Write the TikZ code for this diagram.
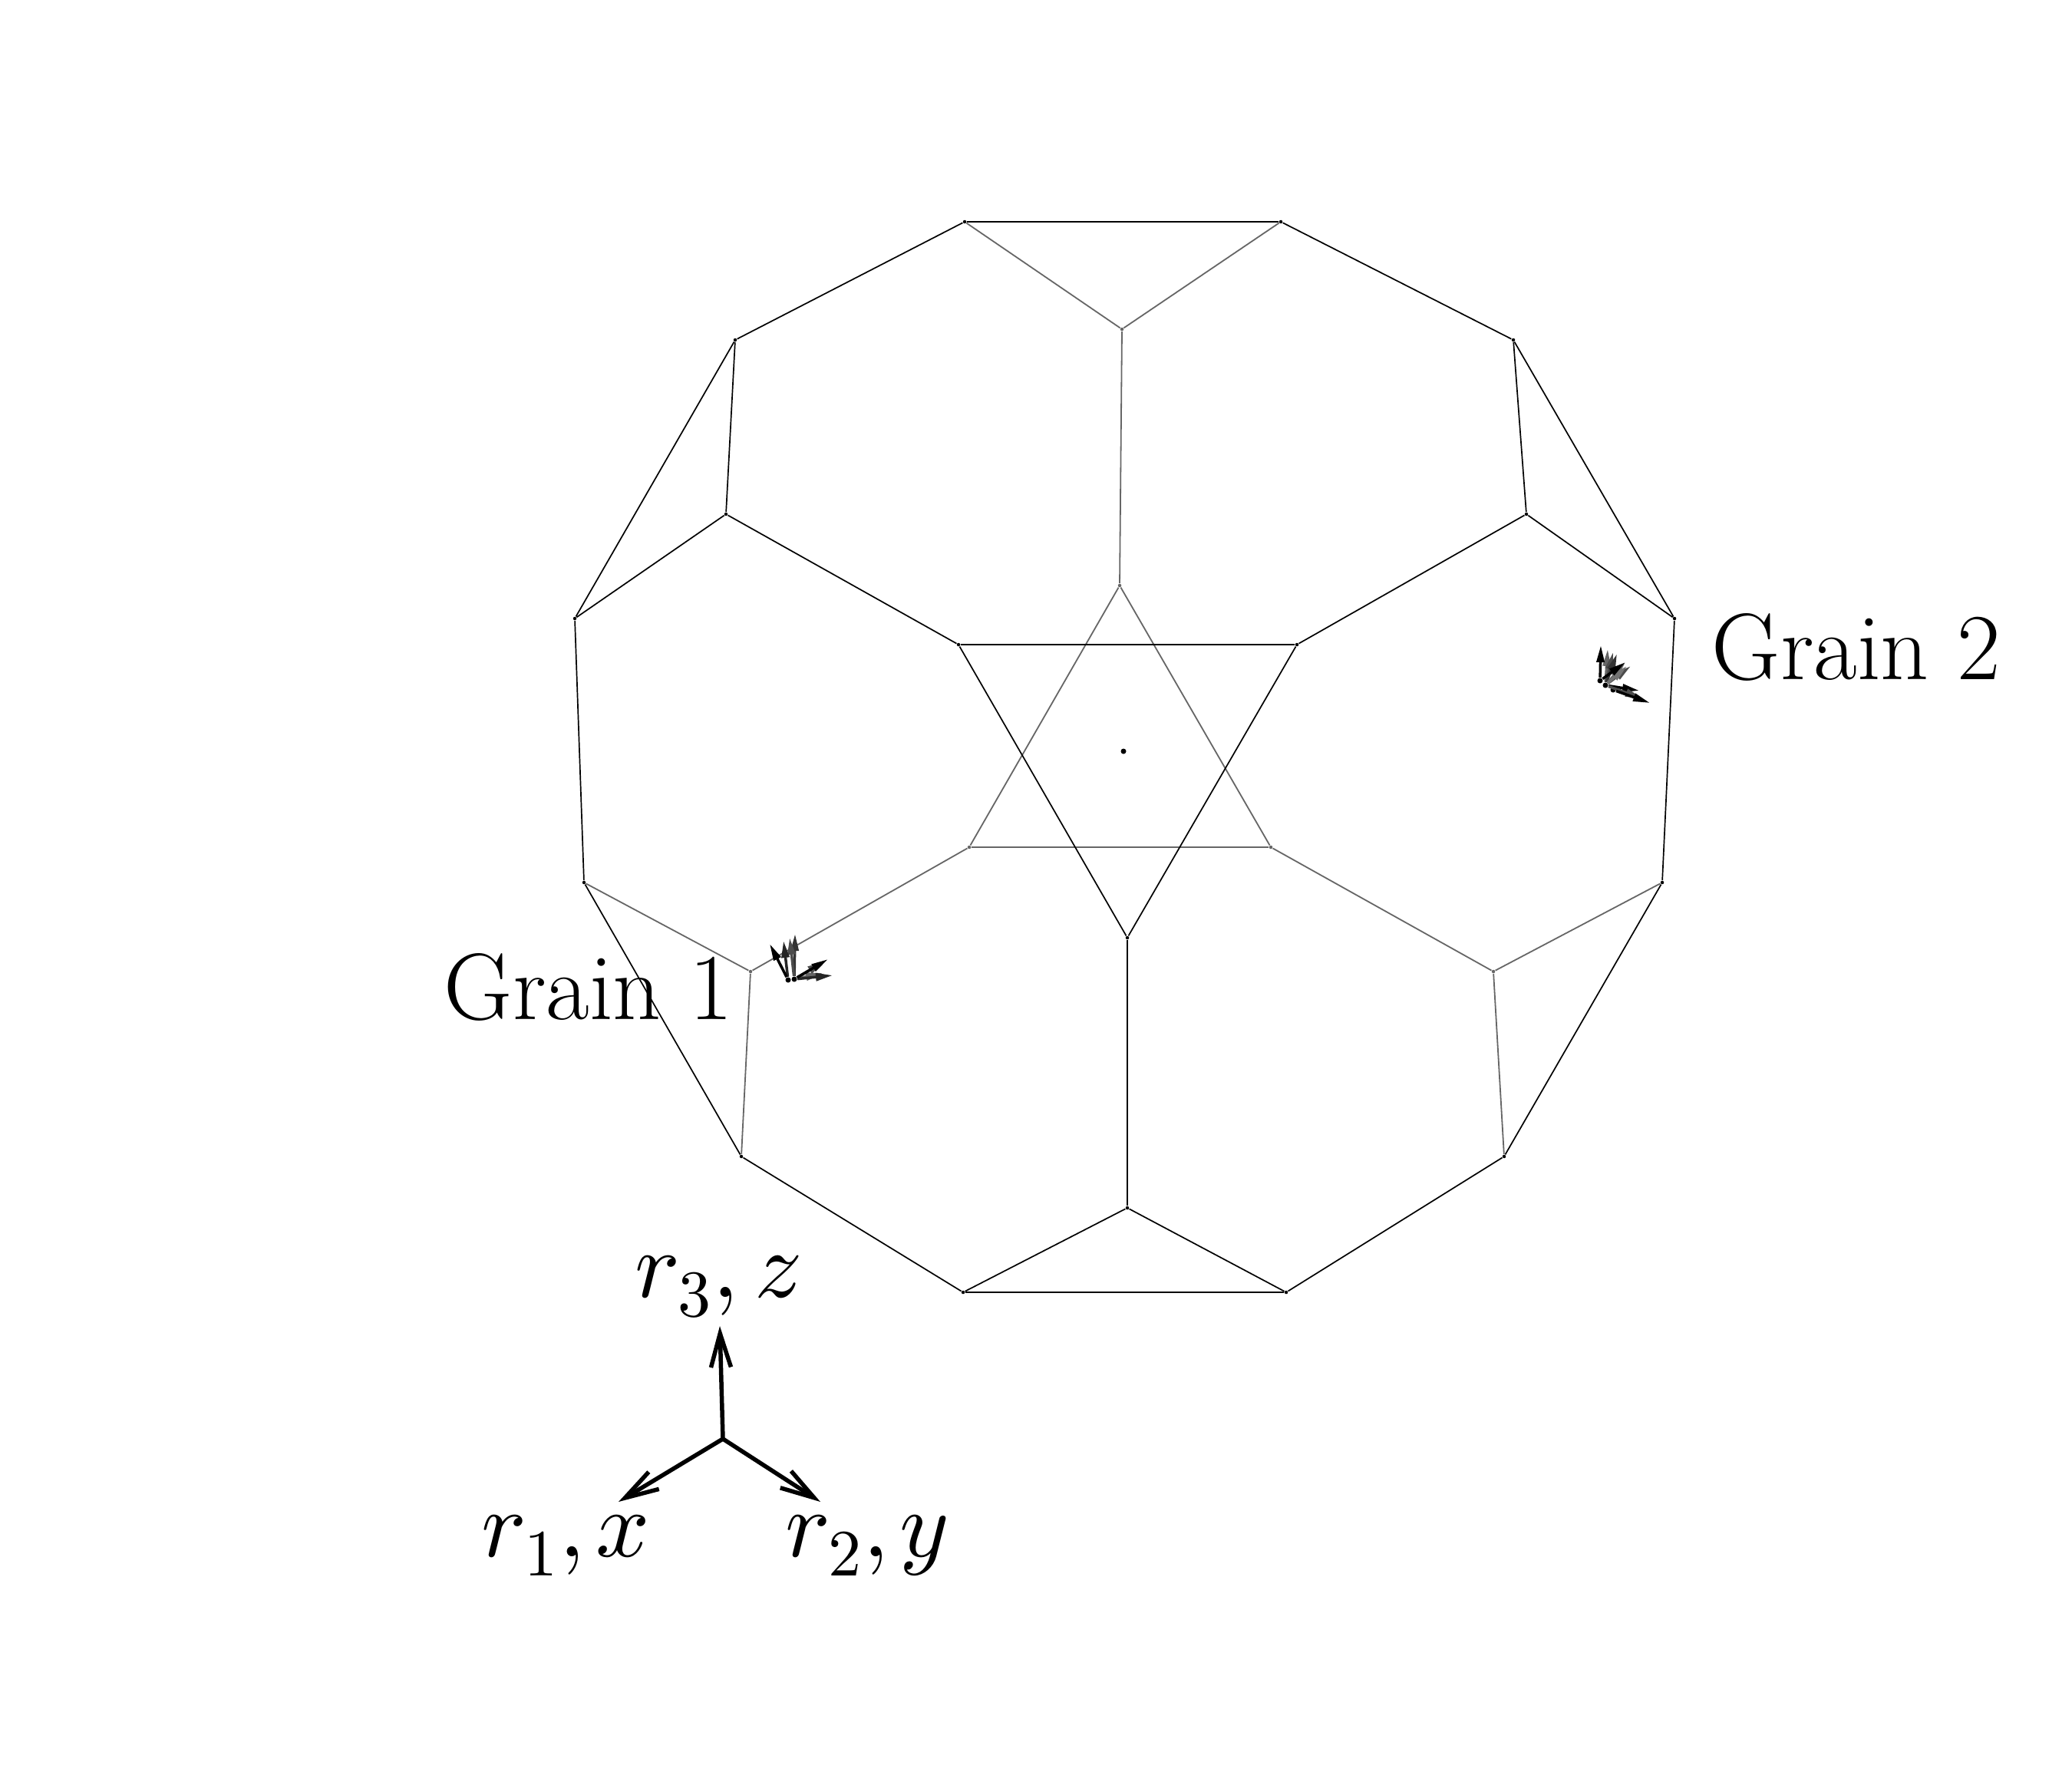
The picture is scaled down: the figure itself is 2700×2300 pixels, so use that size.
\documentclass[tikz,border=0pt]{standalone}
\usepackage{xcolor}
\usepackage{tikz}
\usetikzlibrary{arrows.meta,positioning}
\DeclareFontShape{OML}{cmm}{m}{it}{<->cmmi10}{}
\DeclareFontShape{OT1}{cmr}{m}{n}{<->cmr10}{}
\begin{document}
\begin{tikzpicture}[
  x=0.01cm, y=-0.01cm,
  vert/.style={circle, fill=black, inner sep=0pt, minimum size=0.045cm},
  gvert/.style={circle, fill=black!60, inner sep=0pt, minimum size=0.045cm},
  root/.style={circle, fill=black, inner sep=0pt, minimum size=0.07cm},
  edge/.style={line width=0.017cm, black},
  gedge/.style={line width=0.018cm, black!60},
  axis/.style={-{Straight Barb[length=0.44cm,width=0.26cm]}, line width=0.055cm},
  vec/.style={-{Stealth[inset=0pt,length=0.22cm,width=0.1cm]}, line width=0.035cm},
  lbl/.style={anchor=base west, inner sep=0pt, font=\fontsize{35}{42}\selectfont}
]
  \useasboundingbox (0,0) rectangle (2700,2300);
  % outer ring
  \node[vert] (tl) at (1257,289) {};
  \node[vert] (tr) at (1669,289) {};
  \node[vert] (ula) at (958,443) {};
  \node[vert] (ura) at (1972,443) {};
  \node[vert] (ulb) at (946,670) {};
  \node[vert] (urb) at (1989,670) {};
  \node[vert] (wu) at (749,806) {};
  \node[vert] (eu) at (2182,806) {};
  \node[vert] (wl) at (761,1150) {};
  \node[vert] (el) at (2166,1150) {};
  \node[vert] (lla) at (966,1507) {};
  \node[vert] (lra) at (1960,1507) {};
  \node[vert] (bl) at (1255,1684) {};
  \node[vert] (br) at (1676,1684) {};
  \node[vert] (bm) at (1469,1574) {};
  \node[vert] (sl) at (1249,840) {};
  \node[vert] (sr) at (1690,840) {};
  \node[vert] (sb) at (1469,1222) {};
  \node[gvert] (tm) at (1462,429) {};
  \node[gvert] (st) at (1459,763) {};
  \node[gvert] (gl) at (1263,1104) {};
  \node[gvert] (gr) at (1656,1104) {};
  \node[gvert] (llb) at (978,1266) {};
  \node[gvert] (lrb) at (1946,1266) {};
  \node[root] (mid) at (1464,979) {};

  \draw[gedge] (tl) -- (tm) -- (tr);
  \draw[gedge] (tm) -- (st);
  \draw[gedge] (st) -- (gl) -- (gr) -- (st);
  \draw[gedge] (wl) -- (llb) -- (gl);
  \draw[gedge] (el) -- (lrb) -- (gr);
  \draw[gedge] (llb) -- (lla);
  \draw[gedge] (lrb) -- (lra);

  \draw[edge] (tl) -- (tr) -- (ura) -- (eu) -- (el) -- (lra) -- (br) -- (bl) -- (lla) -- (wl) -- (wu) -- (ula) -- (tl);
  \draw[edge] (ula) -- (ulb) -- (wu);
  \draw[edge] (ura) -- (urb) -- (eu);
  \draw[edge] (ulb) -- (sl) -- (sr) -- (urb);
  \draw[edge] (sl) -- (sb) -- (sr);
  \draw[edge] (sb) -- (bm);
  \draw[edge] (bl) -- (bm) -- (br);

  % grain 1
  \node[root] (ga) at (1027,1277) {};
  \node[root] (gb) at (1035,1276) {};
  \coordinate (ga1) at (1003,1230);
  \coordinate (ga2) at (1021,1226);
  \coordinate (ga3) at (1029,1222);
  \coordinate (ga4) at (1036,1217);
  \coordinate (gb1) at (1079,1250);
  \coordinate (gb2) at (1085,1271);
  \coordinate (gb3) at (1072,1268);
  \coordinate (gb4) at (1074,1253);
  \draw[vec, black!80] (gb) -- (ga4);
  \draw[vec, black!70] (gb) -- (ga3);
  \draw[vec, black!85] (ga) -- (ga2);
  \draw[vec] (ga) -- (ga1);
  \draw[vec, black!60] (gb) -- (gb3);
  \draw[vec, black!85] (gb) -- (gb2);
  \draw[vec, black!70] (gb) -- (gb4);
  \draw[vec] (gb) -- (gb1);

  % grain 2
  \node[root] (ha) at (2085,887) {};
  \node[root] (hb) at (2092,893) {};
  \node[root] (hc) at (2102,899) {};
  \coordinate (ha1) at (2086,841);
  \coordinate (ha2) at (2095,846);
  \coordinate (ha3) at (2102,850);
  \coordinate (ha4) at (2107,852);
  \coordinate (ha5) at (2118,863);
  \coordinate (ha6) at (2125,868);
  \coordinate (ha7) at (2120,868);
  \coordinate (hb1) at (2136,900);
  \coordinate (hc1) at (2150,916);
  \coordinate (hc2) at (2140,910);
  \draw[vec, black!60] (hb) -- (ha2);
  \draw[vec, black!70] (hb) -- (ha3);
  \draw[vec, black!80] (hb) -- (ha4);
  \draw[vec, black!60] (hb) -- (ha5);
  \draw[vec, black!70] (hb) -- (ha6);
  \draw[vec, black!55] (hb) -- (ha7);
  \draw[vec] (ha) -- (ha1);
  \draw[vec] (ha) -- (ha5);
  \draw[vec] (hb) -- (hb1);
  \draw[vec, black!70] (hb) -- (hc2);
  \draw[vec] (hc) -- (hc1);

  \node[lbl] (grainone) at (578,1328) {Grain 1};
  \node[lbl] (graintwo) at (2230,885) {Grain 2};

  % axes
  \coordinate (o) at (942,1875);
  \coordinate (xtip) at (806,1957);
  \coordinate (ytip) at (1069,1957);
  \coordinate (ztip) at (938,1728);
  \draw[axis] (o) -- (xtip);
  \draw[axis] (o) -- (ytip);
  \draw[axis] (o) -- (ztip);
  \node[lbl] (xlab) at (627,2028) {$r_1,x$};
  \node[lbl] (ylab) at (1023,2028) {$r_2,y$};
  \node[lbl] (zlab) at (827,1690) {$r_3,\mskip1.5mu z$};
\end{tikzpicture}
\end{document}
